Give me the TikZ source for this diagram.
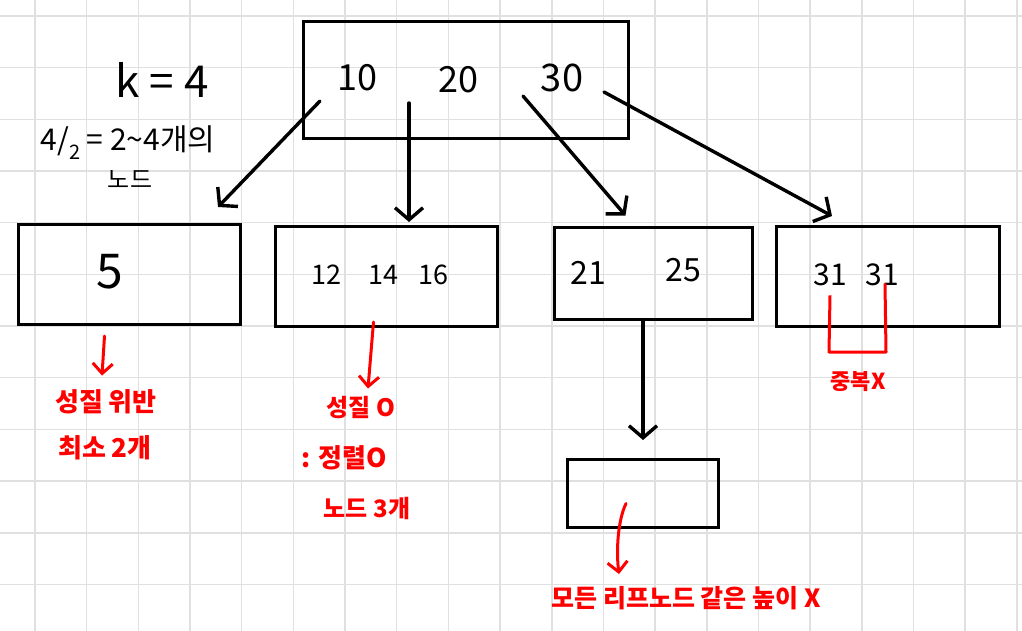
\documentclass[tikz,border=0pt]{standalone}
\usepackage{fontspec}
\setmainfont{Noto Sans CJK KR}
\usetikzlibrary{positioning}
\usetikzlibrary{arrows.meta}

\begin{document}
\begin{tikzpicture}[x=1pt,y=-1pt,
  every node/.style={inner sep=0pt},
  keybox/.style={shape=rectangle,draw,line width=3pt},
  key/.style={font=\fontsize{30}{30}\selectfont},
  memo/.style={text=red,font=\bfseries\fontsize{26}{26}\selectfont},
  gridline/.style={black!12,line width=1.6pt},
  link/.style={-{Straight Barb[length=12pt,width=28pt]},line width=3.4pt,line cap=round,line join=round},
  redlink/.style={-{Straight Barb[length=10pt,width=20pt]},red,line width=3pt,line cap=round,line join=round}]
	    % paper
		    \useasboundingbox[fill=white] (0,0) rectangle (1022,631);
		    \foreach \gx in {0,...,19} \draw[gridline] ({35+51.67*\gx},0) -- ({35+51.67*\gx},631);
		    \foreach \gy in {0,...,11} \draw[gridline] (0,{16+51.67*\gy}) -- (1022,{16+51.67*\gy});
	    % boxes
		    \node[keybox,minimum width=325pt,minimum height=117pt] (root) at (465.5,80) {};
		    \node[keybox,minimum width=222pt,minimum height=100pt] (b1) at (129.5,274.5) {};
		    \node[keybox,minimum width=222pt,minimum height=100pt] (b2) at (386.5,276.5) {};
		    \node[keybox,minimum width=198pt,minimum height=92pt] (b3) at (653.5,273) {};
		    \node[keybox,minimum width=223pt,minimum height=100pt] (b4) at (888,276.5) {};
		    \node[keybox,minimum width=151pt,minimum height=68pt] (b5) at (643,493.5) {};
	    % keys
		    \node[key,font=\fontsize{36}{36}\selectfont] (k10) at (357,78) {10};
		    \node[key,font=\fontsize{36}{36}\selectfont] (k20) at (458,80) {20};
		    \node[key,font=\fontsize{38}{38}\selectfont] (k30) at (562,78) {30};
		    \node[key,font=\fontsize{48}{48}\selectfont] (k5) at (110,272) {5};
		    \node[key,font=\fontsize{27}{27}\selectfont] (k12) at (326,275) {12};
		    \node[key,font=\fontsize{27}{27}\selectfont] (k14) at (383,275) {14};
		    \node[key,font=\fontsize{27}{27}\selectfont] (k16) at (433,275) {16};
		    \node[key,font=\fontsize{32}{32}\selectfont] (k21) at (588,273) {21};
		    \node[key,font=\fontsize{32}{32}\selectfont] (k25) at (683,270) {25};
		    \node[key] (k31a) at (830,275) {31};
		    \node[key] (k31b) at (882,275) {31};
	    % notes
		    \node[font=\fontsize{44}{44}\selectfont] (order) at (162,80) {k = 4};
		    \node[font=\fontsize{30}{30}\selectfont] (half) at (128,143) {4/\raisebox{-0.3em}{\fontsize{20}{20}\selectfont 2} = 2\textasciitilde4개의};
		    \node[font=\fontsize{24}{24}\selectfont] (halfnode) at (130,180) {노드};
		    \node[memo] (m1a) at (106,402) {성질 위반};
		    \node[memo] (m1b) at (105,448) {최소 2개};
		    \node[memo,font=\bfseries\fontsize{24}{24}\selectfont] (m2a) at (361,408) {성질 O};
		    \node[memo] (m2b) at (344,458) {: 정렬O};
		    \node[memo,font=\bfseries\fontsize{24}{24}\selectfont] (m2c) at (367,508) {노드 3개};
		    \node[memo,font=\bfseries\fontsize{25}{25}\selectfont] (m3) at (686,598) {모든 리프노드 같은 높이 X};
		    \node[memo,font=\bfseries\fontsize{22}{22}\selectfont] (m4) at (858,382) {중복X};
	    % pointers
		    \coordinate (s1) at (320,101);
		    \coordinate (s2) at (409,103);
		    \coordinate (s3) at (523,96);
		    \coordinate (s4) at (604,92);
		    \draw[link] (s1) -- ([shift={(-24,-16)}]b1.north east);
		    \draw[link] (s2) -- ([shift={(22.5,-3)}]b2.north);
		    \draw[link] (s3) -- ([shift={(-28,-10)}]b3.north);
		    \draw[link] (s4) -- ([shift={(-56,-9)}]b4.north);
		    \draw[link] (b3.south -| b5) -- ([shift={(0,-18)}]b5.north);
	    % red remarks
		    \draw[redlink] ([shift={(-25,10)}]b1.south) -- ([shift={(-4,-14)}]m1a.north);
		    \draw[redlink] ([shift={(-13,-6)}]b2.south) -- ([shift={(7,-8)}]m2a.north);
		    \draw[redlink] ([shift={(-17,10)}]b5.center) .. controls (618,520) and (616,550) .. ([shift={(-67,-12)}]m3.north);
		    \draw[red,line width=3pt,line join=round] ([shift={(0,9)}]k31a.south) -- (829,352) -- (886,352) -- ([shift={(3,-3)}]k31b.south);
		\end{tikzpicture}
\end{document}
